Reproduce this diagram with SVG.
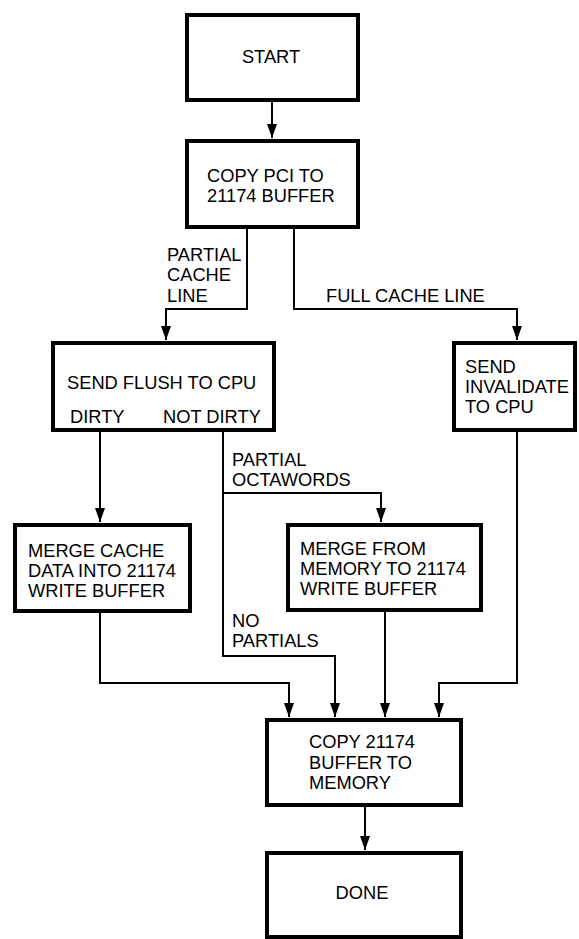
<svg xmlns="http://www.w3.org/2000/svg" width="579" height="939" viewBox="0 0 579 939">
<style>
  .box { fill: #ffffff; stroke: #000000; stroke-width: 4; }
  .conn { fill: none; stroke: #000000; stroke-width: 2; }
  text { font-family: "Liberation Sans", Arial, sans-serif; font-size: 18.3px; fill: #000000; }
  .c { text-anchor: middle; }
</style>
<defs>
  <marker id="ah" markerUnits="userSpaceOnUse" markerWidth="14" markerHeight="12" refX="14" refY="5" orient="auto" viewBox="0 0 14 10">
    <path d="M0,0 L14,5 L0,10 Z" fill="#000000"/>
  </marker>
</defs>
<rect width="579" height="939" fill="#ffffff"/>
<g id="connectors">
  <path class="conn" d="M272,102 V138" marker-end="url(#ah)"/>
  <path class="conn" d="M247,229 V309 H166 V340" marker-end="url(#ah)"/>
  <path class="conn" d="M294,229 V309 H517 V340" marker-end="url(#ah)"/>
  <path class="conn" d="M100,432 V522" marker-end="url(#ah)"/>
  <path class="conn" d="M223,432 V656 H335 V717" marker-end="url(#ah)"/>
  <path class="conn" d="M223,493 H381 V522" marker-end="url(#ah)"/>
  <path class="conn" d="M100,613 V683 H289 V717" marker-end="url(#ah)"/>
  <path class="conn" d="M385,612 V717" marker-end="url(#ah)"/>
  <path class="conn" d="M517,432 V683 H439 V717" marker-end="url(#ah)"/>
  <path class="conn" d="M365,807 V850" marker-end="url(#ah)"/>
</g>
<g id="labels">
  <text x="167" y="261">PARTIAL</text>
  <text x="167" y="281">CACHE</text>
  <text x="167" y="302">LINE</text>
  <text x="326" y="302">FULL CACHE LINE</text>
  <text x="232" y="466">PARTIAL</text>
  <text x="232" y="486">OCTAWORDS</text>
  <text x="232" y="627">NO</text>
  <text x="232" y="647">PARTIALS</text>
</g>
<g id="start">
  <rect class="box" x="187" y="15" width="171" height="85"/>
  <text class="c" x="271" y="63">START</text>
</g>
<g id="copy-pci">
  <rect class="box" x="187" y="141" width="171" height="86"/>
  <text x="207" y="182">COPY PCI TO</text>
  <text x="207" y="202">21174 BUFFER</text>
</g>
<g id="send-flush">
  <rect class="box" x="53" y="343" width="221" height="87"/>
  <text x="67" y="389">SEND FLUSH TO CPU</text>
  <text x="70" y="423">DIRTY</text>
  <text x="163" y="423">NOT DIRTY</text>
</g>
<g id="send-invalidate">
  <rect class="box" x="454" y="343" width="121" height="87"/>
  <text x="465" y="373">SEND</text>
  <text x="465" y="393">INVALIDATE</text>
  <text x="465" y="413">TO CPU</text>
</g>
<g id="merge-cache">
  <rect class="box" x="15" y="525" width="175" height="86"/>
  <text x="28" y="557">MERGE CACHE</text>
  <text x="28" y="577">DATA INTO 21174</text>
  <text x="28" y="597">WRITE BUFFER</text>
</g>
<g id="merge-memory">
  <rect class="box" x="288" y="525" width="193" height="85"/>
  <text x="300" y="555">MERGE FROM</text>
  <text x="300" y="575">MEMORY TO 21174</text>
  <text x="300" y="595">WRITE BUFFER</text>
</g>
<g id="copy-memory">
  <rect class="box" x="267" y="720" width="194" height="85"/>
  <text x="309" y="748">COPY 21174</text>
  <text x="309" y="769">BUFFER TO</text>
  <text x="309" y="789">MEMORY</text>
</g>
<g id="done">
  <rect class="box" x="267" y="853" width="194" height="84"/>
  <text class="c" x="362" y="899">DONE</text>
</g>
</svg>
